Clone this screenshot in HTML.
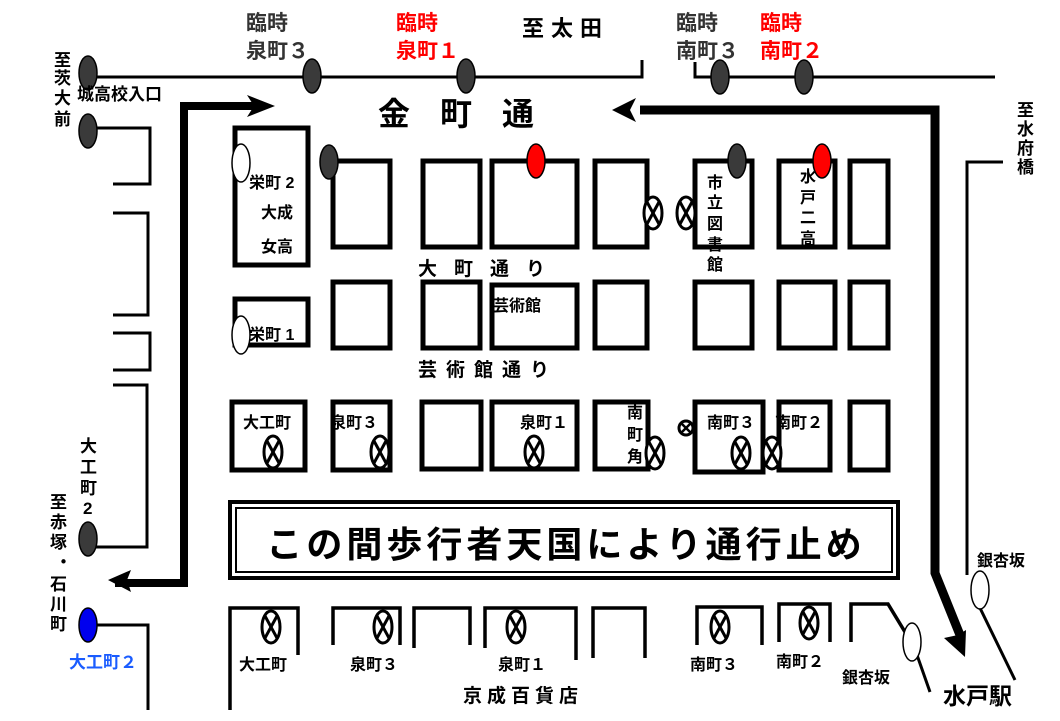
<!DOCTYPE html>
<html><head><meta charset="utf-8"><style>
html,body{margin:0;padding:0;background:#fff;width:1060px;height:721px;overflow:hidden}
svg text{font-family:"Liberation Sans","Noto Sans CJK JP",sans-serif;font-weight:bold}
</style></head><body>
<svg width="1060" height="721" viewBox="0 0 1060 721" xmlns="http://www.w3.org/2000/svg">
<defs>
<g id="x"><ellipse cx="0" cy="0" rx="9" ry="16" fill="#fff" stroke="#000" stroke-width="3"/><line x1="-6" y1="-11" x2="6" y2="11" stroke="#000" stroke-width="3"/><line x1="6" y1="-11" x2="-6" y2="11" stroke="#000" stroke-width="3"/></g>
<g id="xs"><circle cx="0" cy="0" r="7" fill="#fff" stroke="#000" stroke-width="3"/><line x1="-5" y1="-5" x2="5" y2="5" stroke="#000" stroke-width="2.5"/><line x1="5" y1="-5" x2="-5" y2="5" stroke="#000" stroke-width="2.5"/></g>
</defs>
<g fill="none" stroke="#000">
<polyline points="88,77 642,77 642,60" stroke-width="3"/>
<polyline points="695,62 695,77 995,77" stroke-width="3"/>
<polyline points="97,128 150,128 150,184 113,184" stroke-width="3"/>
<polyline points="113,213 148,213 148,315 113,315" stroke-width="3"/>
<polyline points="113,333 150,333 150,370 113,370" stroke-width="3"/>
<polyline points="113,385 147,385 147,547 95,547" stroke-width="3"/>
<polyline points="95,625 148,625 148,710" stroke-width="3"/>
<polyline points="1003,162 967,162 967,575" stroke-width="3"/>
<line x1="980" y1="608" x2="1015" y2="680" stroke-width="3"/>
<line x1="917" y1="655" x2="930" y2="692" stroke-width="3"/>
<polyline points="115,583 184,583 184,106 260,106" stroke-width="8"/>
<polyline points="640,110 935,110 935,573 960,635" stroke-width="9"/>
</g>
<polygon points="275,106 247,95 254,106 247,117" fill="#000"/>
<polygon points="612,110 636,98 630,110 636,122" fill="#000"/>
<polygon points="108,580 131,570 127,580 131,592" fill="#000"/>
<polygon points="965,657 944,638 958,635 966,630" fill="#000"/>
<g fill="none" stroke="#000" stroke-width="5">
<rect x="235" y="128" width="73" height="137"/>
<rect x="333" y="161" width="57" height="86"/>
<rect x="423" y="161" width="57" height="86"/>
<rect x="492" y="161" width="85" height="86"/>
<rect x="595" y="161" width="52" height="86"/>
<rect x="695" y="161" width="57" height="86"/>
<rect x="779" y="161" width="56" height="86"/>
<rect x="850" y="161" width="38" height="86"/>
<rect x="235" y="299" width="73" height="46"/>
<rect x="333" y="282" width="57" height="66"/>
<rect x="423" y="282" width="57" height="66"/>
<rect x="492" y="285" width="85" height="63"/>
<rect x="595" y="282" width="52" height="66"/>
<rect x="695" y="282" width="57" height="66"/>
<rect x="779" y="282" width="56" height="66"/>
<rect x="850" y="282" width="38" height="66"/>
<rect x="232" y="402" width="73" height="68"/>
<rect x="333" y="402" width="57" height="68"/>
<rect x="422" y="402" width="59" height="67"/>
<rect x="492" y="402" width="85" height="67"/>
<rect x="595" y="402" width="53" height="67"/>
<rect x="695" y="402" width="68" height="70"/>
<rect x="779" y="402" width="51" height="68"/>
<rect x="850" y="402" width="38" height="68"/>
</g>
<rect x="230" y="502" width="668" height="76" fill="none" stroke="#000" stroke-width="4"/>
<rect x="236" y="508" width="656" height="64" fill="none" stroke="#000" stroke-width="2"/>
<text x="566" y="557" font-size="36" text-anchor="middle" letter-spacing="4">この間歩行者天国により通行止め</text>
<g fill="none" stroke="#000" stroke-width="3.5">
<polyline points="230,710 230,608 298,608 298,655"/>
<polyline points="333,645 333,608 400,608 400,645"/>
<polyline points="414,648 414,608 470,608 470,645"/>
<polyline points="485,648 485,608 576,608 576,660"/>
<polyline points="593,658 593,608 645,608 645,658"/>
<polyline points="697,645 697,607 762,607 762,645"/>
<polyline points="779,642 779,604 830,604 830,642"/>
<polyline points="851,642 851,604 888,604 905,632"/>
</g>
<use href="#x" x="273" y="452"/><use href="#x" x="380" y="452"/><use href="#x" x="534" y="452"/>
<use href="#x" x="655" y="453"/><use href="#x" x="741" y="453"/><use href="#x" x="772" y="453"/>
<use href="#xs" x="686" y="428"/>
<use href="#x" x="653" y="213"/><use href="#x" x="686" y="213"/>
<use href="#x" x="271" y="627"/><use href="#x" x="383" y="627"/><use href="#x" x="516" y="627"/>
<use href="#x" x="720" y="627"/><use href="#x" x="809" y="623"/>
<g stroke="#000" stroke-width="1.5">
<ellipse cx="88" cy="73" rx="9" ry="17" fill="#3a3a3a"/>
<ellipse cx="88" cy="131" rx="9" ry="17" fill="#3a3a3a"/>
<ellipse cx="312" cy="76" rx="9" ry="17" fill="#3a3a3a"/>
<ellipse cx="466" cy="76" rx="9" ry="17" fill="#3a3a3a"/>
<ellipse cx="720" cy="77" rx="9" ry="17" fill="#3a3a3a"/>
<ellipse cx="804" cy="77" rx="9" ry="17" fill="#3a3a3a"/>
<ellipse cx="329" cy="162" rx="9" ry="17" fill="#3a3a3a"/>
<ellipse cx="536" cy="161" rx="9" ry="17" fill="#ff0000"/>
<ellipse cx="737" cy="161" rx="9" ry="17" fill="#3a3a3a"/>
<ellipse cx="822" cy="161" rx="9" ry="17" fill="#ff0000"/>
<ellipse cx="88" cy="539" rx="9" ry="17" fill="#3a3a3a"/>
<ellipse cx="88" cy="625" rx="9" ry="17" fill="#0000ee"/>
<ellipse cx="241" cy="163" rx="9" ry="19" fill="#fff"/>
<ellipse cx="241" cy="335" rx="9" ry="19" fill="#fff"/>
<ellipse cx="980" cy="590" rx="9" ry="19" fill="#fff"/>
<ellipse cx="912" cy="642" rx="9" ry="19" fill="#fff"/>
</g>
<g font-size="21" fill="#333">
<text x="246" y="30">臨時</text><text x="246" y="58">泉町３</text>
<text x="676" y="30">臨時</text><text x="676" y="58">南町３</text>
</g>
<g font-size="21" fill="#ff0000">
<text x="396" y="30">臨時</text><text x="396" y="58">泉町１</text>
<text x="760" y="30">臨時</text><text x="760" y="58">南町２</text>
</g>
<text x="522" y="36" font-size="22" letter-spacing="7">至太田</text>
<text x="378" y="125" font-size="32" letter-spacing="30">金町通</text>
<g font-size="17">
<text x="54" y="66">至</text><text x="54" y="84">茨</text><text x="54" y="104">大</text><text x="54" y="125">前</text>
<text x="77" y="100">城高校入口</text>
<text x="1017" y="116">至</text><text x="1017" y="135">水</text><text x="1017" y="154">府</text><text x="1017" y="173">橋</text>
<text x="80" y="452">大</text><text x="80" y="473">工</text><text x="80" y="494">町</text><text x="83" y="514">2</text>
<text x="50" y="508">至</text><text x="50" y="528">赤</text><text x="50" y="548">塚</text><text x="55" y="568">・</text><text x="50" y="590">石</text><text x="50" y="610">川</text><text x="50" y="630">町</text>
</g>
<text x="69" y="668" font-size="17" fill="#1a5cff">大工町２</text>
<g font-size="16">
<text x="249" y="188">栄町 2</text><text x="261" y="218">大成</text><text x="261" y="252">女高</text>
<text x="249" y="340">栄町 1</text>
<text x="493" y="311">芸術館</text>
<text x="243" y="428">大工町</text><text x="330" y="428">泉町３</text><text x="520" y="428">泉町１</text>
<text x="627" y="418">南</text><text x="627" y="440">町</text><text x="627" y="462">角</text>
<text x="707" y="428">南町３</text><text x="775" y="428">南町２</text>
<text x="707" y="188">市</text><text x="707" y="208">立</text><text x="707" y="229">図</text><text x="707" y="250">書</text><text x="707" y="270">館</text>
<text x="800" y="182">水</text><text x="800" y="203">戸</text><text x="800" y="223">二</text><text x="800" y="244">高</text>
<text x="239" y="670">大工町</text><text x="350" y="670">泉町３</text><text x="498" y="670">泉町１</text>
<text x="690" y="670">南町３</text><text x="776" y="667">南町２</text>
<text x="842" y="683">銀杏坂</text><text x="977" y="566">銀杏坂</text>
</g>
<g font-size="19">
<text x="418" y="275" letter-spacing="17">大町通り</text>
<text x="418" y="376" letter-spacing="9">芸術館通り</text>
<text x="463" y="702" letter-spacing="5">京成百貨店</text>
</g>
<text x="943" y="704" font-size="23">水戸駅</text>
</svg>
</body></html>
